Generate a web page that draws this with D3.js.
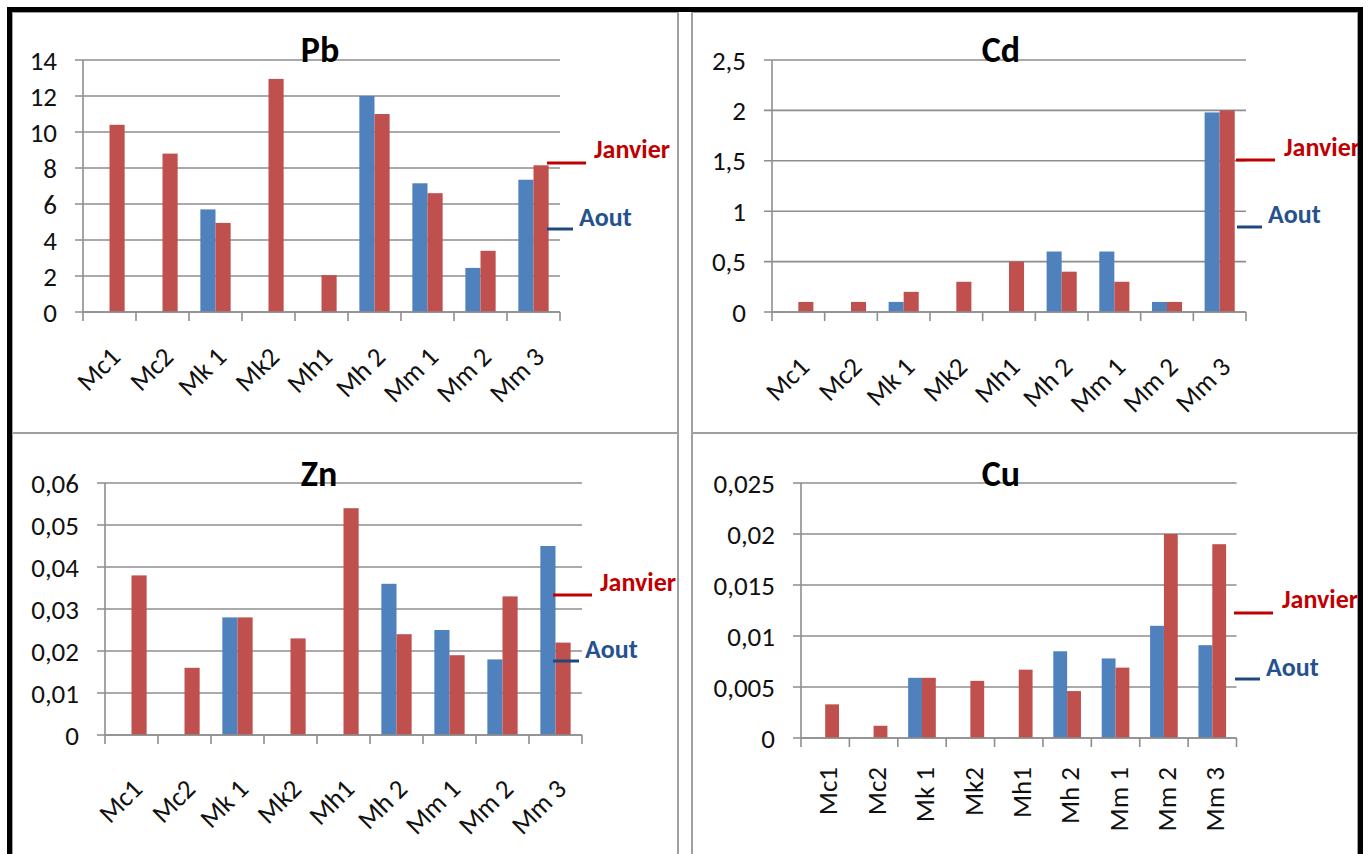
<!DOCTYPE html>
<html>
<head>
<meta charset="utf-8">
<script src="https://cdn.jsdelivr.net/npm/d3@7/dist/d3.min.js"></script>
<style>
  html, body { margin: 0; padding: 0; background: #fff; }
  svg { display: block; }
  text { font-family: 'Carlito', 'Calibri', 'Open Sans', sans-serif; }
</style>
</head>
<body>
<svg id="chart" width="1372" height="854"></svg>
<script>
// ---------- data ----------
const categories = ["Mc1", "Mc2", "Mk 1", "Mk2", "Mh1", "Mh 2", "Mm 1", "Mm 2", "Mm 3"];
const seriesNames = ["Aout", "Janvier"];

const pbAout    = [null, null, 5.7, null, null, 12, 7.15, 2.45, 7.35];
const pbJanvier = [10.4, 8.8, 4.95, 12.95, 2.05, 11, 6.6, 3.4, 8.15];
const pbTicks   = [0, 2, 4, 6, 8, 10, 12, 14];

const cdAout    = [null, null, 0.1, null, null, 0.6, 0.6, 0.1, 1.98];
const cdJanvier = [0.1, 0.1, 0.2, 0.3, 0.5, 0.4, 0.3, 0.1, 2.0];
const cdTicks   = [0, 0.5, 1, 1.5, 2, 2.5];

const znAout    = [null, null, 0.028, null, null, 0.036, 0.025, 0.018, 0.045];
const znJanvier = [0.038, 0.016, 0.028, 0.023, 0.054, 0.024, 0.019, 0.033, 0.022];
const znTicks   = [0, 0.01, 0.02, 0.03, 0.04, 0.05, 0.06];

const cuAout    = [null, null, 0.0059, null, null, 0.0085, 0.0078, 0.011, 0.0091];
const cuJanvier = [0.0033, 0.0012, 0.0059, 0.0056, 0.0067, 0.0046, 0.0069, 0.02, 0.019];
const cuTicks   = [0, 0.005, 0.01, 0.015, 0.02, 0.025];

// ---------- layout / style ----------
const COL_AOUT = "#4F81BD", COL_JAN = "#C0504D";
const LEG_JAN = "#C00000", LEG_AOUT = "#1F497D", LEG_AOUT_TXT = "#25528E";
const GRID = "#8E8E8E";
const fmt = v => String(v).replace(".", ",");

const panels = [
  { title: "Pb", aout: pbAout, jan: pbJanvier, ticks: pbTicks,
    x0: 83, x1: 560, yTop: 60, yBot: 312, titleX: 320, titleY: 62,
    rot: 45, lblDx: 6, lblY: 352,
    leg: { jx0: 547, jx1: 586, jy: 163, jtx: 594, jty: 158, ax0: 547, ax1: 573, ay: 229, atx: 579, aty: 226 } },
  { title: "Cd", aout: cdAout, jan: cdJanvier, ticks: cdTicks,
    x0: 772, x1: 1246, yTop: 60, yBot: 312, titleX: 1001, titleY: 62,
    rot: 45, lblDx: 6, lblY: 362,
    leg: { jx0: 1236, jx1: 1275, jy: 160, jtx: 1284, jty: 156, ax0: 1237, ax1: 1262, ay: 227, atx: 1268, aty: 223 } },
  { title: "Zn", aout: znAout, jan: znJanvier, ticks: znTicks,
    x0: 105, x1: 582, yTop: 483, yBot: 735, titleX: 319, titleY: 486,
    rot: 45, lblDx: 6, lblY: 784,
    leg: { jx0: 553, jx1: 592, jy: 595, jtx: 600, jty: 591, ax0: 553, ax1: 579, ay: 661, atx: 585, aty: 658 } },
  { title: "Cu", aout: cuAout, jan: cuJanvier, ticks: cuTicks,
    x0: 801, x1: 1236.5, yTop: 483, yBot: 738, titleX: 1001, titleY: 486,
    rot: 90, lblDx: 3, lblY: 767,
    leg: { jx0: 1234, jx1: 1273, jy: 613, jtx: 1282, jty: 608, ax0: 1235, ax1: 1260, ay: 679, atx: 1266, aty: 676 } }
];

const svg = d3.select("#chart");
svg.append("rect").attr("width", 1372).attr("height", 854).attr("fill", "#fff");

// panel borders (gray)
const boxes = [[12, 12, 678, 433], [692, 12, 1358, 433], [12, 433, 678, 870], [692, 433, 1358, 870]];
svg.selectAll("rect.box").data(boxes).join("rect").attr("class", "box")
  .attr("x", d => d[0]).attr("y", d => d[1])
  .attr("width", d => d[2] - d[0]).attr("height", d => d[3] - d[1])
  .attr("fill", "none").attr("stroke", "#A0A0A0").attr("stroke-width", 2);

panels.forEach(p => {
  const g = svg.append("g");
  const x = d3.scaleBand().domain(categories).range([p.x0, p.x1]).paddingInner(0).paddingOuter(0);
  const y = d3.scaleLinear().domain([0, p.ticks[p.ticks.length - 1]]).range([p.yBot, p.yTop]);
  const bw = x.bandwidth() / 3.5;

  // gridlines (extending left as outward ticks)
  g.append("g").selectAll("line").data(p.ticks).join("line")
    .attr("x1", p.x0 - 8).attr("x2", p.x1)
    .attr("y1", d => y(d)).attr("y2", d => y(d))
    .attr("stroke", GRID).attr("stroke-width", 1.6);

  // y axis labels via d3 axis
  const yAxis = d3.axisLeft(y).tickValues(p.ticks).tickFormat(fmt).tickSize(0).tickPadding(0);
  const ya = g.append("g").attr("transform", `translate(${p.x0 - 26},0)`).call(yAxis);
  ya.select(".domain").remove();
  ya.selectAll("text").attr("font-size", 27).attr("fill", "#111").attr("dy", "0.34em")
    .attr("font-family", "'Carlito','Calibri','Open Sans',sans-serif");

  // y axis line
  g.append("line").attr("x1", p.x0).attr("x2", p.x0).attr("y1", p.yTop).attr("y2", p.yBot)
    .attr("stroke", GRID).attr("stroke-width", 1.6);

  // bars
  const rows = categories.map((c, i) => ({ c, a: p.aout[i], j: p.jan[i] }));
  g.append("g").selectAll("rect").data(rows.filter(r => r.a != null)).join("rect")
    .attr("x", r => x(r.c) + x.bandwidth() / 2 - bw).attr("width", bw)
    .attr("y", r => y(r.a)).attr("height", r => y(0) - y(r.a)).attr("fill", COL_AOUT);
  g.append("g").selectAll("rect").data(rows.filter(r => r.j != null)).join("rect")
    .attr("x", r => x(r.c) + x.bandwidth() / 2).attr("width", bw)
    .attr("y", r => y(r.j)).attr("height", r => y(0) - y(r.j)).attr("fill", COL_JAN);

  // x axis line + tick marks at band boundaries
  g.append("line").attr("x1", p.x0).attr("x2", p.x1).attr("y1", p.yBot).attr("y2", p.yBot)
    .attr("stroke", GRID).attr("stroke-width", 1.6);
  const bounds = categories.map(c => x(c)).concat([p.x1]);
  g.append("g").selectAll("line").data(bounds).join("line")
    .attr("x1", d => d).attr("x2", d => d).attr("y1", p.yBot).attr("y2", p.yBot + 9)
    .attr("stroke", GRID).attr("stroke-width", 1.6);

  // x labels
  g.append("g").selectAll("text").data(categories).join("text")
    .attr("transform", c => `translate(${x(c) + x.bandwidth() / 2 + p.lblDx},${p.lblY}) rotate(${-p.rot})`)
    .attr("text-anchor", "end").attr("dy", "0.34em")
    .attr("font-size", 27).attr("fill", "#111").text(c => c);

  // title
  g.append("text").attr("x", p.titleX).attr("y", p.titleY).attr("text-anchor", "middle")
    .attr("font-size", 36).attr("font-weight", "bold").attr("fill", "#000").text(p.title);

  // legend
  const L = p.leg;
  g.append("line").attr("x1", L.jx0).attr("x2", L.jx1).attr("y1", L.jy).attr("y2", L.jy)
    .attr("stroke", LEG_JAN).attr("stroke-width", 3);
  g.append("text").attr("x", L.jtx).attr("y", L.jty).attr("font-size", 26).attr("font-weight", "bold")
    .attr("fill", LEG_JAN).text(seriesNames[1]);
  g.append("line").attr("x1", L.ax0).attr("x2", L.ax1).attr("y1", L.ay).attr("y2", L.ay)
    .attr("stroke", LEG_AOUT).attr("stroke-width", 3);
  g.append("text").attr("x", L.atx).attr("y", L.aty).attr("font-size", 26).attr("font-weight", "bold")
    .attr("fill", LEG_AOUT_TXT).text(seriesNames[0]);
});

// outer black frame
svg.append("path").attr("d", "M9.5,870 L9.5,9.5 L1360.5,9.5 L1360.5,870")
  .attr("fill", "none").attr("stroke", "#000").attr("stroke-width", 5);
svg.append("rect").attr("x", 1363).attr("y", 0).attr("width", 9).attr("height", 854).attr("fill", "#fff");
</script>
</body>
</html>
